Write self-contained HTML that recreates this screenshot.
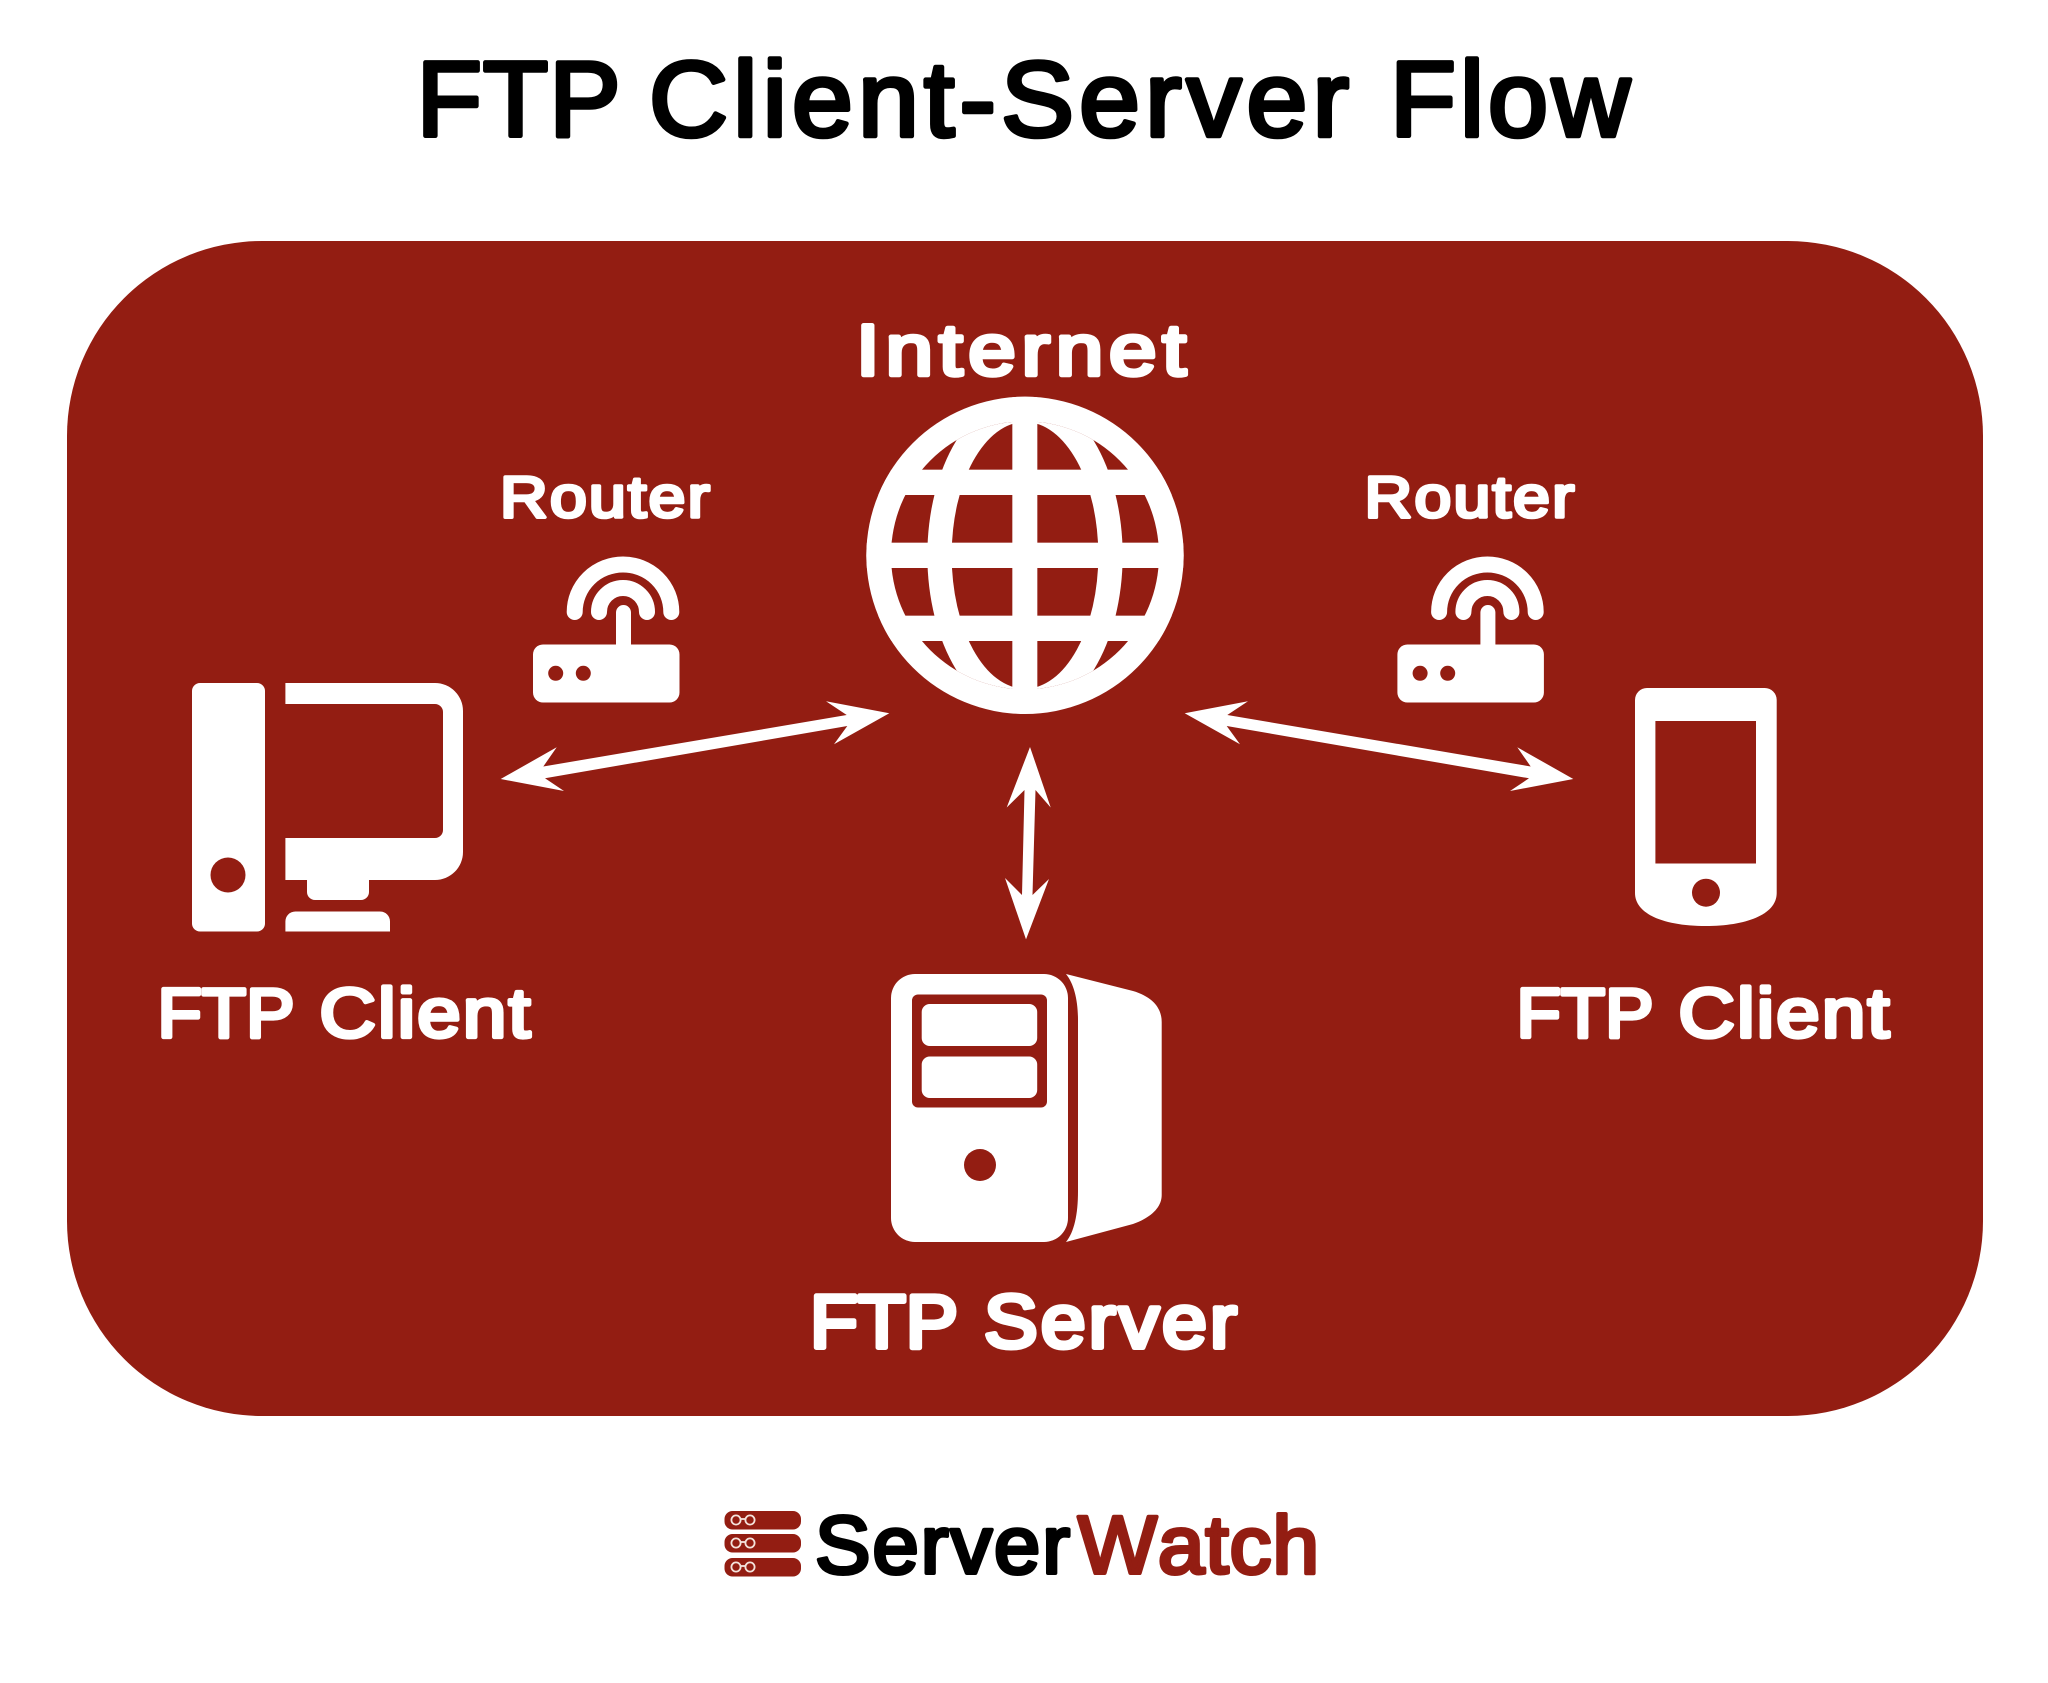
<!DOCTYPE html>
<html><head><meta charset="utf-8"><title>FTP Client-Server Flow</title>
<style>html,body{margin:0;padding:0;background:#fff}svg{display:block}text{font-family:"Liberation Sans",sans-serif;font-weight:400;stroke-linejoin:round;font-kerning:none}
.t{font-size:107px;fill:#000;stroke:#000;stroke-width:4.5px}
.c{font-size:70px;fill:#fff;stroke:#fff;stroke-width:4.2px}
.r{font-size:58px;fill:#fff;stroke:#fff;stroke-width:3.6px;letter-spacing:2px}
.s{font-size:75px;fill:#fff;stroke:#fff;stroke-width:5px}
.b{font-size:82px;stroke-width:4px}</style>
</head><body>
<svg xmlns="http://www.w3.org/2000/svg" width="2048" height="1683" viewBox="0 0 2048 1683">
<defs>
<clipPath id="gc"><circle cx="555" cy="526" r="402"/></clipPath>
<clipPath id="go"><circle cx="555" cy="526" r="476"/></clipPath>
<g id="router">
<rect x="533" y="644.5" width="146.5" height="58" rx="10" fill="#fff"/>
<circle cx="555.7" cy="673.3" r="7.5" fill="#931d12"/><circle cx="583.3" cy="673.3" r="7.5" fill="#931d12"/>
<path d="M623.5 612.5V650" stroke="#fff" stroke-width="15" stroke-linecap="round" fill="none"/>
<path d="M574.7 612A48.3 47.5 0 0 1 671.3 612M599 612A24 24 0 0 1 647 612" stroke="#fff" stroke-width="16" stroke-linecap="round" fill="none"/>
</g>
</defs>
<rect width="2048" height="1683" fill="#fff"/>
<rect x="67" y="241" width="1916" height="1175" rx="195" ry="195" fill="#931d12"/>

<text class="t" x="416.6" y="136" textLength="205" lengthAdjust="spacingAndGlyphs" letter-spacing="1">FTP</text>
<text class="t" x="649" y="136" textLength="705" lengthAdjust="spacingAndGlyphs" letter-spacing="5">Client-Server</text>
<text class="t" x="1390" y="136" textLength="244" lengthAdjust="spacingAndGlyphs" letter-spacing="4">Flow</text>

<text x="856" y="375" font-size="72" fill="#fff" stroke="#fff" stroke-width="4.5" letter-spacing="5" textLength="336" lengthAdjust="spacingAndGlyphs">Internet</text>
<text class="r" x="500" y="517" textLength="212" lengthAdjust="spacingAndGlyphs">Router</text>
<text class="r" x="1364.5" y="517" textLength="212" lengthAdjust="spacingAndGlyphs">Router</text>

<text class="c" x="157.5" y="1037" textLength="137" lengthAdjust="spacingAndGlyphs">FTP</text>
<text class="c" x="319.5" y="1037" textLength="213" lengthAdjust="spacingAndGlyphs" letter-spacing="2">Client</text>
<text class="c" x="1516.5" y="1037" textLength="137" lengthAdjust="spacingAndGlyphs">FTP</text>
<text class="c" x="1678.5" y="1037" textLength="213" lengthAdjust="spacingAndGlyphs" letter-spacing="2">Client</text>

<text class="s" x="810" y="1347.5" textLength="148" lengthAdjust="spacingAndGlyphs">FTP</text>
<text class="s" x="984" y="1347.5" textLength="256" lengthAdjust="spacingAndGlyphs" letter-spacing="3">Server</text>

<!-- globe -->
<g transform="translate(840 380) scale(.33333)">
<circle cx="555" cy="526" r="476" fill="#fff"/>
<circle cx="555" cy="526" r="402" fill="#931d12"/>
<g clip-path="url(#gc)"><ellipse cx="555" cy="526" rx="293" ry="484" fill="#fff"/></g>
<ellipse cx="555" cy="526" rx="220" ry="400" fill="#931d12"/>
<g clip-path="url(#go)" fill="#fff">
<rect x="517" y="50" width="75" height="950"/>
<rect x="70" y="269" width="970" height="76"/>
<rect x="70" y="488" width="970" height="76"/>
<rect x="70" y="707" width="970" height="76"/>
</g>
</g>

<!-- routers -->
<use href="#router"/>
<use href="#router" transform="translate(864.4 0)"/>

<!-- computer -->
<rect x="192" y="683" width="73" height="248.5" rx="8" fill="#fff"/>
<circle cx="228" cy="875" r="17.5" fill="#931d12"/>
<path fill="#fff" fill-rule="evenodd" d="M285.4 683H435A28 28 0 0 1 463 711V852A28 28 0 0 1 435 880H369V892A8 8 0 0 1 361 900H315A8 8 0 0 1 307 892V880H285.4V838H435A8 8 0 0 0 443 830V712A8 8 0 0 0 435 704H285.4Z"/>
<path fill="#fff" d="M285.4 931.5V921.5A10 10 0 0 1 295.4 911.5H380A10 10 0 0 1 390 921.5V931.5Z"/>

<!-- server -->
<rect x="891" y="974" width="177" height="268" rx="24" fill="#fff"/>
<rect x="912" y="994.5" width="135" height="113" rx="6" fill="#931d12"/>
<rect x="921.7" y="1004" width="115.5" height="42" rx="8" fill="#fff"/>
<rect x="921.7" y="1056.5" width="115.5" height="41.5" rx="8" fill="#fff"/>
<circle cx="980" cy="1165" r="16" fill="#931d12"/>
<path fill="#fff" d="M1066 974L1133 991C1150 996 1161.7 1006 1161.7 1022V1195C1161.7 1208 1150 1218 1133 1224L1066 1242C1074 1232 1078 1215 1078 1191V1020C1078 1000 1074 984 1066 974Z"/>

<!-- phone -->
<path fill="#fff" d="M1647 688H1764.7A12 12 0 0 1 1776.7 700V893C1776.7 915 1745 926 1705.8 926C1666 926 1635 915 1635 893V700A12 12 0 0 1 1647 688Z"/>
<rect x="1655.4" y="721" width="100.6" height="142.5" fill="#931d12"/>
<circle cx="1706" cy="892.7" r="14" fill="#931d12"/>

<!-- arrows -->
<g fill="#fff" stroke="none">
<path d="M500.7 779L556.7 747.3L543.3 766.5L846.7 715L826 701.3L889.3 713.3L834 744.3L847.3 726L545 778.3L564 791Z"/>
<path d="M1573.3 779L1517.3 747.3L1530.7 766.5L1227.3 715L1248 701.3L1184.7 713.3L1240 744.3L1226.7 726L1529 778.3L1510 791Z"/>
<path d="M1030 747L1050.7 807.5L1035.5 790L1032.5 895L1049 879L1026 939.4L1005 878L1022 895L1024.5 790L1006.7 807.5Z"/>
</g>

<!-- logo -->
<g fill="#931d12">
<rect x="724.5" y="1511" width="76.5" height="18.5" rx="8"/>
<rect x="724.5" y="1534" width="76.5" height="18.5" rx="8"/>
<rect x="724.5" y="1558" width="76.5" height="18.5" rx="8"/>
</g>
<g fill="none" stroke="#f4e3dc" stroke-width="1.8">
<circle cx="736" cy="1520" r="4.6"/><circle cx="750" cy="1520" r="4.6"/><path d="M740.6 1519H745.4"/>
<circle cx="736" cy="1543" r="4.6"/><circle cx="750" cy="1543" r="4.6"/><path d="M740.6 1542H745.4"/>
<circle cx="736" cy="1567" r="4.6"/><circle cx="750" cy="1567" r="4.6"/><path d="M740.6 1566H745.4"/>
</g>
<text class="b" x="815" y="1573" fill="#000" stroke="#000" letter-spacing="2" textLength="257" lengthAdjust="spacingAndGlyphs">Server</text>
<text class="b" x="1078" y="1573" fill="#931d12" stroke="#931d12" letter-spacing="1" textLength="242" lengthAdjust="spacingAndGlyphs">Watch</text>
</svg>
</body></html>
